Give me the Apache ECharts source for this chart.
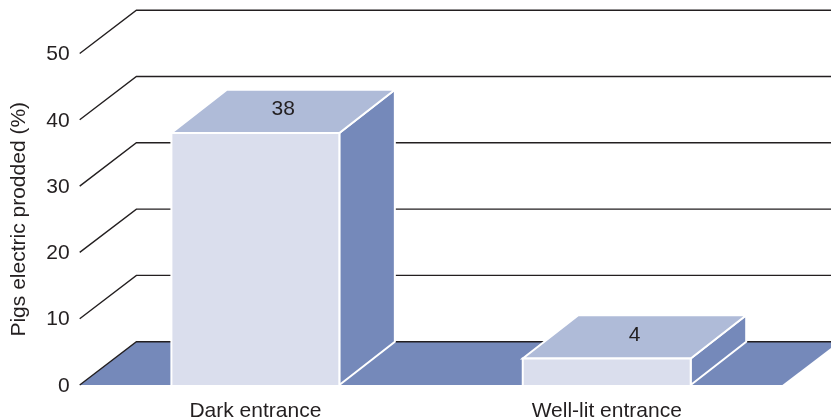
<!DOCTYPE html>
<html>
<head>
<meta charset="utf-8">
<style>html,body{margin:0;padding:0;background:#fff}#chart{width:831px;height:420px}</style>
<script src="https://cdn.jsdelivr.net/npm/echarts@6/dist/echarts.min.js"></script>
</head>
<body>
<div id="chart"></div>
<script>
// Pigs electric prodded at dark and well-lit entrances, drawn as a pseudo-3D column chart.
const categories = ['Dark entrance', 'Well-lit entrance'];
const prodded = [38, 4];
const yTicks = [0, 10, 20, 30, 40, 50];

const DEPTH_X = 56.7, DEPTH_Y = -43.3, COLUMN_DEPTH_X = 55.5;
const INK = '#231f20', FRONT = '#dadeed', TOP = '#afbbd8', SIDE = '#7589ba';
const FONT = '"Liberation Sans", Arial, sans-serif';

function poly(points, fill, stroke) {
  return { type: 'polygon', shape: { points }, style: { fill, stroke: stroke || 'none', lineWidth: stroke ? 2 : 0, lineJoin: 'miter' } };
}

// Back wall: one slanted tick plus one horizontal rule per axis value.
function renderWall(params, api) {
  const cs = params.coordSys;
  const y = api.coord([0, api.value(0)])[1];
  const x0 = cs.x, x1 = cs.x + cs.width;
  return {
    type: 'polyline',
    shape: { points: [[x0, y], [x0 + DEPTH_X, y + DEPTH_Y], [x1 + DEPTH_X, y + DEPTH_Y]] },
    style: { fill: 'none', stroke: INK, lineWidth: 1.4 }
  };
}

function renderFloor(params, api) {
  const cs = params.coordSys;
  const y = api.coord([0, 0])[1];
  const x0 = cs.x, x1 = cs.x + cs.width;
  return {
    type: 'group',
    children: [
      poly([[x0, y], [x1, y], [x1 + DEPTH_X, y + DEPTH_Y], [x0 + DEPTH_X, y + DEPTH_Y]], SIDE),
      {
        type: 'polyline',
        shape: { points: [[x0, y], [x0 + DEPTH_X, y + DEPTH_Y], [x1 + DEPTH_X, y + DEPTH_Y]] },
        style: { fill: 'none', stroke: INK, lineWidth: 1.4 }
      }
    ]
  };
}

function renderColumn(params, api) {
  const c = api.coord([api.value(0), api.value(1)]);
  const base = api.coord([api.value(0), 0])[1];
  const halfW = api.size([1, 0])[0] * 0.239;
  const l = c[0] - halfW, r = c[0] + halfW, t = c[1];
  const dx = COLUMN_DEPTH_X;
  return {
    type: 'group',
    children: [
      poly([[r, t], [r + dx, t + DEPTH_Y], [r + dx, base + DEPTH_Y], [r, base]], SIDE, '#fff'),
      poly([[l, t], [r, t], [r + dx, t + DEPTH_Y], [l + dx, t + DEPTH_Y]], TOP, '#fff'),
      poly([[l, t], [r, t], [r, base + 1], [l, base + 1]], FRONT, '#fff'),
      {
        type: 'text',
        style: {
          text: String(api.value(1)),
          x: c[0] + dx / 2, y: t + DEPTH_Y / 2 - 2,
          align: 'center', verticalAlign: 'middle',
          fill: INK, font: '21px ' + FONT
        }
      }
    ]
  };
}

const chart = echarts.init(document.getElementById('chart'), null, { renderer: 'canvas' });
chart.setOption({
  animation: false,
  backgroundColor: '#fff',
  grid: { left: 79.7, width: 702.7, top: 53.5, height: 331.5, containLabel: false, outerBoundsMode: 'none' },
  xAxis: {
    type: 'category',
    data: categories,
    axisLine: { show: false },
    axisTick: { show: false },
    axisLabel: { color: INK, fontFamily: FONT, fontSize: 21, margin: 16 }
  },
  yAxis: {
    type: 'value',
    min: 0, max: 50, interval: 10,
    name: 'Pigs electric prodded (%)',
    nameLocation: 'middle',
    nameGap: 50,
    nameTextStyle: { color: INK, fontFamily: FONT, fontSize: 21 },
    axisLine: { show: false },
    axisTick: { show: false },
    splitLine: { show: false },
    axisLabel: { color: INK, fontFamily: FONT, fontSize: 21, margin: 10, verticalAlign: 'top', lineHeight: 2 }
  },
  series: [
    { type: 'custom', clip: false, silent: true, renderItem: renderWall, data: yTicks.slice(1).map(v => [v]), encode: { y: 0 } },
    { type: 'custom', clip: false, silent: true, renderItem: renderFloor, data: [[0]], encode: { y: 0 } },
    { type: 'custom', clip: false, silent: true, renderItem: renderColumn, data: prodded.map((v, i) => [i, v]), encode: { x: 0, y: 1 } }
  ]
});
</script>
</body>
</html>
